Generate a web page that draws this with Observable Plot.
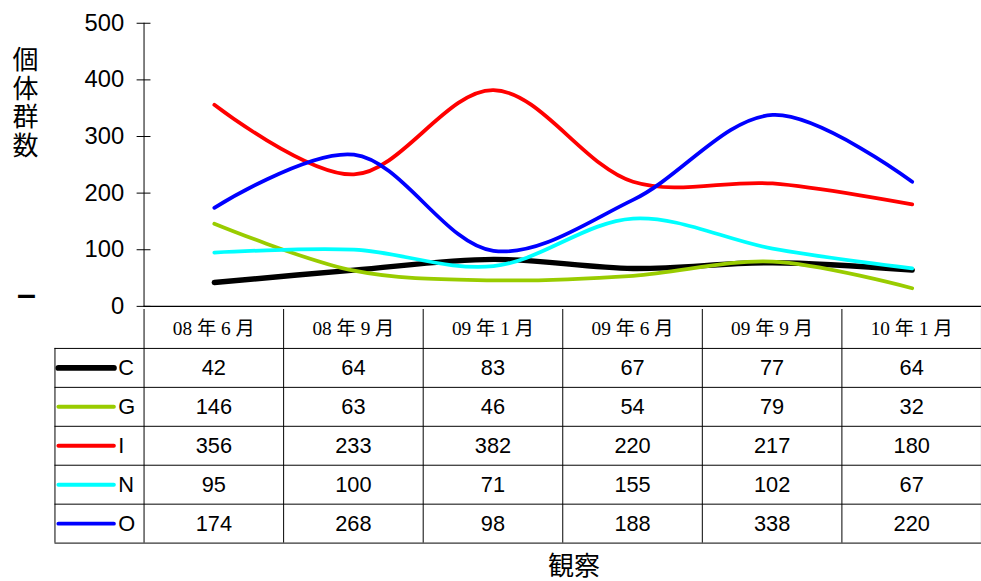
<!DOCTYPE html>
<html>
<head>
<meta charset="utf-8">
<script src="https://cdn.jsdelivr.net/npm/d3@7"></script>
<script src="https://cdn.jsdelivr.net/npm/@observablehq/plot@0.6"></script>
<style>
  body { margin:0; width:981px; height:581px; overflow:hidden; background:#fff; position:relative;
         font-family:"Liberation Sans", Arial, sans-serif; color:#000; }
  #chart { position:absolute; left:0; top:0; }
  #table { position:absolute; left:0; top:309px; }
  .ylab { position:absolute; left:11px; top:46px; writing-mode:vertical-rl; text-orientation:upright;
          font-family:"Noto Sans CJK JP", sans-serif; font-size:26px; line-height:28px; letter-spacing:2.7px; }
  .dash { position:absolute; left:17px; top:276px; font-family:"Liberation Sans", sans-serif; font-weight:bold; font-size:34px; line-height:34px; }
  .xlab { position:absolute; left:548px; top:551px; font-family:"Noto Sans CJK JP", sans-serif; font-size:26px; line-height:26px; }
</style>
</head>
<body>
<div id="chart"></div>
<div id="table"></div>
<div class="ylab">個体群数</div>
<div class="dash">–</div>
<div class="xlab">観察</div>
<script>
// ---- data ----
const categories = ["08年6月", "08年9月", "09年1月", "09年6月", "09年9月", "10年1月"];
const headerLabels = ["08 年 6 月", "08 年 9 月", "09 年 1 月", "09 年 6 月", "09 年 9 月", "10 年 1 月"];
const series = ["C", "G", "I", "N", "O"];
const valuesC = [42, 64, 83, 67, 77, 64];
const valuesG = [146, 63, 46, 54, 79, 32];
const valuesI = [356, 233, 382, 220, 217, 180];
const valuesN = [95, 100, 71, 155, 102, 67];
const valuesO = [174, 268, 98, 188, 338, 220];
const colors = ["#000000", "#99cc00", "#ff0000", "#00ffff", "#0000ff"];
const yTicks = [0, 100, 200, 300, 400, 500];

const allValues = [valuesC, valuesG, valuesI, valuesN, valuesO];
const rows = series.flatMap((s, i) => allValues[i].map((v, j) => ({series: s, si: i, cat: categories[j], ci: j, value: v})));

const W = 991;
const sans = '"Liberation Sans", Arial, sans-serif';
const serif = '"Liberation Serif", "Noto Sans CJK JP", serif';

// ---- chart ----
const chart = Plot.plot({
  width: W, height: 330,
  marginTop: 23, marginBottom: 21, marginLeft: 145, marginRight: 0,
  x: {type: "point", domain: categories, padding: 0.5, axis: null},
  y: {domain: [0, 500], axis: null, label: null},
  color: {domain: series, range: colors},
  style: {fontFamily: sans, fontSize: "24px", color: "#000", background: "transparent"},
  marks: [
    Plot.axisY(yTicks, {tickSize: 14, dx: 7, text: null, label: null, stroke: "#000"}),
    Plot.axisY(yTicks, {tickSize: 0, tickPadding: 20, label: null, fontSize: 24, fill: "#000"}),
    Plot.frame({anchor: "left", stroke: "#000"}),
    Plot.ruleY([0], {stroke: "#000", strokeWidth: 1.3}),
    Plot.line(rows.filter(d => d.series === "C"), {x: "cat", y: "value", stroke: "series", curve: "catmull-rom", strokeWidth: 5.5}),
    Plot.line(rows.filter(d => d.series !== "C"), {x: "cat", y: "value", stroke: "series", z: "series", curve: "catmull-rom", strokeWidth: 3.8})
  ]
});
document.getElementById("chart").append(chart);

// ---- data table ----
const L = 90 / 141; // legend column width in category units
const table = Plot.plot({
  width: W, height: 237,
  marginTop: 0, marginBottom: 1, marginLeft: 55, marginRight: 0,
  x: {domain: [-L, 6], axis: null},
  y: {domain: [0, 6], reverse: true, axis: null},
  color: {domain: series, range: colors},
  style: {fontFamily: sans, fontSize: "22px", color: "#000", background: "transparent"},
  marks: [
    Plot.ruleY([1, 2, 3, 4, 5, 6], {x1: -L, x2: 6, stroke: "#000"}),
    Plot.ruleX([0, 1, 2, 3, 4, 5, 6], {y1: 0, y2: 6, stroke: "#000"}),
    Plot.ruleX([-L], {y1: 1, y2: 6, stroke: "#000"}),
    Plot.text(headerLabels, {x: (d, i) => i + 0.5, y: 0.5, text: d => d, fontFamily: serif, fontSize: 19.5, fill: "#000"}),
    Plot.text(rows, {x: d => d.ci + 0.5, y: d => d.si + 1.5, text: d => String(d.value), fontSize: 22, fill: "#000"}),
    Plot.ruleY(series, {y: (d, i) => i + 1.5, x1: -L + 4 / 141, x2: -L + 60 / 141, stroke: d => d,
      strokeWidth: d => d === "C" ? 6 : 4, strokeLinecap: "round"}),
    Plot.text(series, {x: -L + 64 / 141, y: (d, i) => i + 1.5, text: d => d, textAnchor: "start", fontSize: 22, fill: "#000"})
  ]
});
document.getElementById("table").append(table);
</script>
</body>
</html>
